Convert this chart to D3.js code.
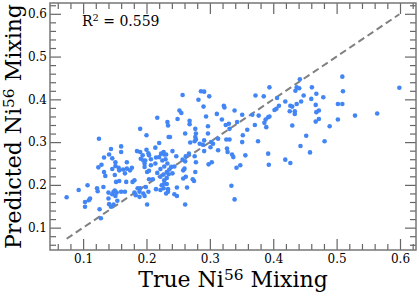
<!DOCTYPE html>
<html>
<head>
<meta charset="utf-8">
<script src="https://cdn.jsdelivr.net/npm/d3@7"></script>
<style>
  body { margin: 0; background: #fff; }
  text { font-family: "DejaVu Serif", serif; fill: #000; }
</style>
</head>
<body>
<div id="chart"></div>
<script>
// true vs predicted Ni56 mixing
var trueMix = [
  0.217, 0.233, 0.234, 0.190, 0.200, 0.125, 0.220, 0.144, 0.160, 0.160,
  0.185, 0.141, 0.133, 0.129, 0.124, 0.146, 0.151, 0.169, 0.146, 0.156,
  0.157, 0.163, 0.169, 0.174, 0.177, 0.133, 0.135, 0.150, 0.166, 0.190,
  0.194, 0.191, 0.195, 0.200, 0.203, 0.204, 0.198, 0.197, 0.207, 0.214,
  0.215, 0.220, 0.223, 0.227, 0.228, 0.225, 0.230, 0.201, 0.204, 0.207,
  0.214, 0.228, 0.233, 0.204, 0.235, 0.151, 0.152, 0.157, 0.168, 0.178,
  0.181, 0.197, 0.210, 0.199, 0.190, 0.217, 0.222, 0.232, 0.227, 0.228,
  0.074, 0.093, 0.107, 0.122, 0.123, 0.132, 0.111, 0.109, 0.103, 0.103,
  0.140, 0.148, 0.150, 0.153, 0.160, 0.166, 0.146, 0.151, 0.140, 0.141,
  0.144, 0.126, 0.128, 0.148, 0.186, 0.189, 0.195, 0.189, 0.197, 0.203,
  0.201, 0.181, 0.183, 0.215, 0.222, 0.227, 0.234, 0.224, 0.228, 0.232,
  0.154, 0.257, 0.286, 0.291, 0.299, 0.282, 0.290, 0.394, 0.372, 0.385,
  0.252, 0.255, 0.249, 0.268, 0.268, 0.294, 0.322, 0.323, 0.339, 0.311,
  0.351, 0.367, 0.377, 0.392, 0.388, 0.386, 0.389, 0.394, 0.405, 0.409,
  0.319, 0.330, 0.325, 0.331, 0.343, 0.371, 0.277, 0.297, 0.359, 0.261,
  0.278, 0.277, 0.297, 0.313, 0.326, 0.331, 0.352, 0.351, 0.376, 0.237,
  0.269, 0.276, 0.278, 0.284, 0.289, 0.291, 0.302, 0.305, 0.301, 0.241,
  0.231, 0.247, 0.267, 0.262, 0.261, 0.257, 0.276, 0.278, 0.291, 0.313,
  0.327, 0.328, 0.335, 0.337, 0.356, 0.392, 0.393, 0.342, 0.348, 0.303,
  0.298, 0.277, 0.260, 0.258, 0.262, 0.258, 0.244, 0.241, 0.222, 0.236,
  0.273, 0.239, 0.235, 0.275, 0.232, 0.248, 0.264, 0.234, 0.231, 0.244,
  0.248, 0.261, 0.334, 0.339, 0.509, 0.442, 0.437, 0.441, 0.435, 0.461,
  0.510, 0.599, 0.448, 0.468, 0.460, 0.479, 0.406, 0.419, 0.437, 0.444,
  0.427, 0.430, 0.402, 0.467, 0.502, 0.509, 0.426, 0.434, 0.434, 0.468,
  0.472, 0.529, 0.564, 0.472, 0.467, 0.502, 0.489, 0.430, 0.452, 0.481,
  0.443, 0.458, 0.419, 0.427
];
var predMix = [
  0.357, 0.347, 0.339, 0.331, 0.316, 0.308, 0.298, 0.284, 0.290, 0.277,
  0.279, 0.271, 0.264, 0.247, 0.241, 0.262, 0.253, 0.253, 0.237, 0.240,
  0.234, 0.236, 0.238, 0.234, 0.240, 0.230, 0.221, 0.223, 0.227, 0.277,
  0.269, 0.261, 0.257, 0.282, 0.274, 0.269, 0.257, 0.250, 0.260, 0.287,
  0.264, 0.265, 0.273, 0.277, 0.271, 0.257, 0.260, 0.230, 0.233, 0.246,
  0.250, 0.243, 0.250, 0.213, 0.312, 0.244, 0.207, 0.209, 0.207, 0.207,
  0.211, 0.242, 0.213, 0.195, 0.192, 0.228, 0.237, 0.230, 0.224, 0.211,
  0.171, 0.188, 0.199, 0.192, 0.185, 0.195, 0.168, 0.164, 0.160, 0.149,
  0.182, 0.184, 0.187, 0.182, 0.184, 0.184, 0.178, 0.174, 0.168, 0.155,
  0.149, 0.143, 0.122, 0.154, 0.192, 0.184, 0.180, 0.172, 0.174, 0.184,
  0.154, 0.182, 0.176, 0.190, 0.188, 0.192, 0.190, 0.199, 0.203, 0.216,
  0.163, 0.410, 0.419, 0.418, 0.407, 0.399, 0.383, 0.428, 0.409, 0.407,
  0.374, 0.368, 0.354, 0.350, 0.342, 0.360, 0.385, 0.381, 0.374, 0.366,
  0.364, 0.364, 0.362, 0.358, 0.353, 0.345, 0.335, 0.360, 0.378, 0.385,
  0.353, 0.343, 0.340, 0.331, 0.347, 0.340, 0.331, 0.337, 0.329, 0.320,
  0.320, 0.312, 0.320, 0.308, 0.306, 0.306, 0.316, 0.300, 0.302, 0.312,
  0.299, 0.302, 0.306, 0.296, 0.294, 0.304, 0.300, 0.296, 0.288, 0.279,
  0.271, 0.267, 0.273, 0.267, 0.255, 0.259, 0.267, 0.253, 0.279, 0.281,
  0.285, 0.277, 0.271, 0.265, 0.269, 0.273, 0.247, 0.240, 0.246, 0.253,
  0.248, 0.230, 0.238, 0.234, 0.219, 0.215, 0.243, 0.227, 0.219, 0.236,
  0.213, 0.242, 0.225, 0.209, 0.202, 0.194, 0.194, 0.184, 0.180, 0.178,
  0.174, 0.154, 0.198, 0.166, 0.453, 0.447, 0.428, 0.426, 0.420, 0.428,
  0.419, 0.427, 0.409, 0.413, 0.401, 0.405, 0.403, 0.395, 0.389, 0.395,
  0.385, 0.383, 0.375, 0.387, 0.389, 0.389, 0.372, 0.372, 0.366, 0.370,
  0.374, 0.362, 0.367, 0.354, 0.348, 0.353, 0.337, 0.339, 0.315, 0.302,
  0.291, 0.276, 0.259, 0.251
];
var majorTicks = [0.1, 0.2, 0.3, 0.4, 0.5, 0.6];
var r2Value = "0.559";

var margin = {top: 3, right: 2, bottom: 44, left: 50},
    width = 418 - margin.left - margin.right,
    height = 294 - margin.top - margin.bottom;

var points = trueMix.map(function (d, i) { return {t: d, p: predMix[i]}; });

// same limits on both axes: range of the true values plus 5%
var ext = d3.extent(trueMix);
var pad = (ext[1] - ext[0]) * 0.05;
var lim = [ext[0] - pad, ext[1] + pad];

var x = d3.scaleLinear().domain(lim).range([0, width]);
var y = d3.scaleLinear().domain(lim).range([height, 0]);

var minorTicks = d3.range(0.02, 0.66, 0.02)
    .map(function (v) { return Math.round(v * 100) / 100; })
    .filter(function (v) { return v > lim[0] && v < lim[1] && Math.round(v * 100) % 10 !== 0; });

var svg = d3.select("#chart")
    .append("svg")
      .attr("width", 418)
      .attr("height", 294)
    .append("g")
      .attr("transform", "translate(" + margin.left + "," + margin.top + ")");

// y = x reference line
svg.append("line")
    .attr("x1", x(ext[0])).attr("y1", y(ext[0]))
    .attr("x2", x(ext[1])).attr("y2", y(ext[1]))
    .attr("stroke", "#808080")
    .attr("stroke-width", 2)
    .attr("stroke-dasharray", "7,4");

svg.selectAll(".dot")
    .data(points)
    .enter()
    .append("circle")
      .attr("class", "dot")
      .attr("cx", function (d) { return x(d.t); })
      .attr("cy", function (d) { return y(d.p); })
      .attr("r", 2.3)
      .style("fill", "#4285f4");

function styleAxis(g) {
    g.select(".domain").remove();
    g.selectAll(".tick line").attr("stroke", "#666").attr("stroke-width", 1.2);
    g.selectAll(".tick text").style("font-size", "12px");
}

var fmt = d3.format(".1f");

svg.append("g").attr("transform", "translate(0," + height + ")")
    .call(d3.axisBottom(x).tickValues(majorTicks).tickSize(-11).tickPadding(4).tickFormat(fmt))
    .call(styleAxis);
svg.append("g").attr("transform", "translate(0," + height + ")")
    .call(d3.axisBottom(x).tickValues(minorTicks).tickSize(-6).tickFormat(""))
    .call(styleAxis);
svg.append("g")
    .call(d3.axisTop(x).tickValues(majorTicks).tickSize(-11).tickFormat(""))
    .call(styleAxis);
svg.append("g")
    .call(d3.axisTop(x).tickValues(minorTicks).tickSize(-6).tickFormat(""))
    .call(styleAxis);

svg.append("g")
    .call(d3.axisLeft(y).tickValues(majorTicks).tickSize(-11).tickPadding(3).tickFormat(fmt))
    .call(styleAxis);
svg.append("g")
    .call(d3.axisLeft(y).tickValues(minorTicks).tickSize(-6).tickFormat(""))
    .call(styleAxis);
svg.append("g").attr("transform", "translate(" + width + ",0)")
    .call(d3.axisRight(y).tickValues(majorTicks).tickSize(-11).tickFormat(""))
    .call(styleAxis);
svg.append("g").attr("transform", "translate(" + width + ",0)")
    .call(d3.axisRight(y).tickValues(minorTicks).tickSize(-6).tickFormat(""))
    .call(styleAxis);

svg.append("rect")
    .attr("width", width)
    .attr("height", height)
    .attr("fill", "none")
    .attr("stroke", "#777")
    .attr("stroke-width", 1.5);

// labels with superscripts (shift in px so the rest returns to the baseline)
function supLabel(sel, size, before, sup, after) {
    var shift = size * 0.33;
    sel.style("font-size", size + "px");
    sel.append("tspan").text(before);
    sel.append("tspan").attr("dy", -shift).style("font-size", (size * 0.7) + "px").text(sup);
    sel.append("tspan").attr("dy", shift).text(after);
}

svg.append("text")
    .attr("x", width / 2)
    .attr("y", 284)
    .attr("text-anchor", "middle")
    .call(supLabel, 22, "True Ni", "56", " Mixing");

svg.append("text")
    .attr("transform", "translate(" + (21 - margin.left) + "," + (height / 2) + ") rotate(-90)")
    .attr("text-anchor", "middle")
    .call(supLabel, 22, "Predicted Ni", "56", " Mixing");

svg.append("text")
    .attr("x", 32)
    .attr("y", 23)
    .call(supLabel, 14, "R", "2", " = " + r2Value);
</script>
</body>
</html>
